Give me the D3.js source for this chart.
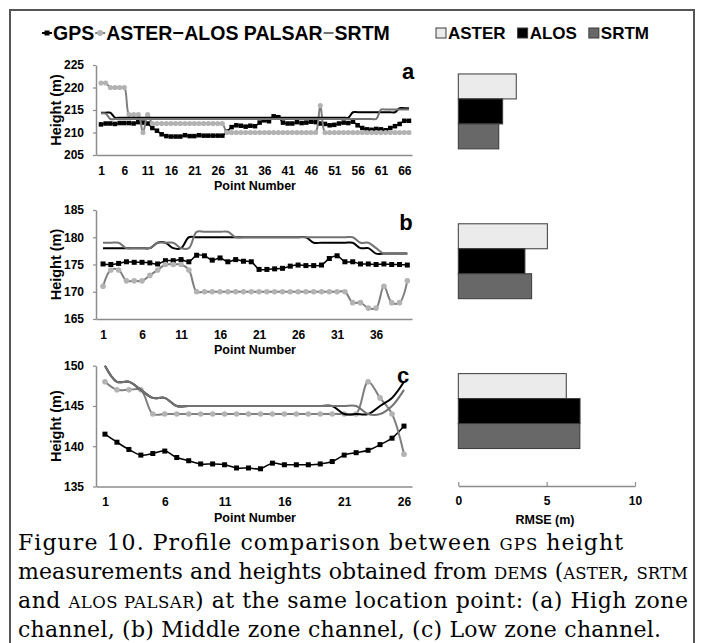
<!DOCTYPE html>
<html>
<head>
<meta charset="utf-8">
<script src="https://cdn.jsdelivr.net/npm/d3@7/dist/d3.min.js"></script>
<style>
  body { margin: 0; background: #fff; }
  svg { display: block; }
</style>
</head>
<body>
<div id="main"></div>
<script>
// ---- data ----
const seriesNames = ["GPS", "ASTER", "ALOS PALSAR", "SRTM"];

// (a) high zone channel, 67 points
const gpsA = [211.8, 212.0, 212.0, 211.9, 212.1, 212.1, 212.1, 212.0, 212.3, 212.2,
  212.0, 211.0, 210.4, 209.6, 209.2, 209.1, 209.1, 209.1, 209.4, 209.2,
  209.2, 209.4, 209.3, 209.3, 209.3, 209.3, 209.3, 210.2, 211.2, 211.6,
  211.5, 211.3, 211.5, 211.4, 212.2, 212.7, 212.5, 213.6, 213.4, 212.2,
  212.0, 212.0, 212.3, 212.1, 212.2, 212.4, 212.3, 212.0, 211.9, 211.6,
  211.7, 212.0, 212.2, 212.1, 212.4, 211.6, 211.0, 210.7, 210.6, 210.8,
  210.7, 210.5, 211.0, 211.4, 211.9, 212.6, 212.6];
const asterA = [221, 221, 220, 220, 220, 220, 214, 214, 214, 210,
  214, 212, 212, 212, 212, 212, 212, 212, 212, 212,
  212, 212, 212, 212, 212, 212, 212, 210, 210, 210,
  210, 210, 210, 210, 210, 210, 210, 210, 210, 210,
  210, 210, 210, 210, 210, 210, 210, 216, 210, 210,
  210, 210, 210, 210, 210, 210, 210, 210, 210, 210,
  210, 210, 210, 210, 210, 210, 210];
const alosA = [214.4, 214.4, 214.4, 213.3, 213.3, 213.3, 213.3, 213.3, 213.3, 213.3,
  213.3, 213.3, 213.3, 213.3, 213.3, 213.3, 213.3, 213.3, 213.3, 213.3,
  213.3, 213.3, 213.3, 213.3, 213.3, 213.3, 213.3, 213.3, 213.3, 213.3,
  213.3, 213.3, 213.3, 213.3, 213.3, 213.3, 213.3, 213.3, 213.3, 213.3,
  213.3, 213.3, 213.3, 213.3, 213.3, 213.3, 213.3, 213.3, 213.3, 213.3,
  213.3, 213.3, 213.3, 213.3, 214.5, 214.5, 214.5, 214.5, 214.5, 214.5,
  214.5, 214.5, 214.5, 214.5, 215.4, 215.4, 215.4];
const srtmA = [214.2, 214.2, 213, 213, 213, 213, 213, 213, 213, 213,
  213, 213, 213, 213, 213, 213, 213, 213, 213, 213,
  213, 213, 213, 213, 213, 213, 213, 213, 213, 213,
  213, 213, 213, 213, 213, 213, 213, 213, 213, 213,
  213, 213, 213, 213, 213, 213, 213, 213, 213, 213,
  213, 213, 213, 213, 213, 213, 213, 213, 213, 213,
  215.1, 215.1, 215.1, 215.1, 215.1, 215.1, 215.1];

// (b) middle zone channel, 40 points
const gpsB = [175.1, 175.0, 175.2, 175.5, 175.4, 175.4, 175.3, 175.1, 175.7, 175.7,
  175.9, 175.5, 176.7, 176.6, 175.8, 176.2, 175.5, 175.9, 175.6, 175.5,
  174.1, 174.1, 174.2, 174.3, 174.7, 174.9, 174.8, 174.8, 174.9, 176.1,
  176.6, 175.5, 175.5, 175.1, 175.1, 175.0, 175.1, 175.0, 175.0, 174.9];
const asterB = [171, 174, 174, 172, 172, 172, 173, 174, 175, 175,
  175, 174, 170, 170, 170, 170, 170, 170, 170, 170,
  170, 170, 170, 170, 170, 170, 170, 170, 170, 170,
  170, 170, 168, 168, 167, 167, 171, 168, 168, 172];
const alosB = [178, 178, 178, 178, 178, 178, 178, 179, 179, 178,
  178, 180, 180, 180, 180, 180, 180, 180, 180, 180,
  180, 180, 180, 180, 180, 180, 180, 179, 179, 179,
  179, 179, 179, 178, 178, 177, 177, 177, 177, 177];
const srtmB = [179, 179, 179, 178, 178, 178, 178, 179, 179, 179,
  178, 178, 181, 181, 181, 181, 181, 180, 180, 180,
  180, 180, 180, 180, 180, 180, 180, 180, 180, 180,
  180, 180, 180, 179, 179, 178, 177, 177, 177, 177];

// (c) low zone channel, 26 points
const gpsC = [141.5, 140.5, 139.6, 138.9, 139.1, 139.4, 138.6, 138.2, 137.8, 137.8,
  137.7, 137.3, 137.3, 137.2, 137.9, 137.7, 137.7, 137.7, 137.8, 138.1,
  138.9, 139.2, 139.5, 140.2, 141.0, 142.5];
const asterC = [148, 147, 147, 147, 144, 144, 144, 144, 144, 144,
  144, 144, 144, 144, 144, 144, 144, 144, 144, 144,
  144, 144, 148, 146, 144, 139];
const alosC = [150, 148, 148, 147, 146, 146, 145, 145, 145, 145,
  145, 145, 145, 145, 145, 145, 145, 145, 145, 145,
  144, 144, 144, 145, 146, 148];
const srtmC = [150, 148, 148, 147, 146, 146, 145, 145, 145, 145,
  145, 145, 145, 145, 145, 145, 145, 145, 145, 145,
  145, 145, 144, 144, 145, 147];

// tick labels
const yTicksA = [205, 210, 215, 220, 225];
const yTicksB = [165, 170, 175, 180, 185];
const yTicksC = [135, 140, 145, 150];
const xTicksA = [1, 6, 11, 16, 21, 26, 31, 36, 41, 46, 51, 56, 61, 66];
const xTicksB = [1, 6, 11, 16, 21, 26, 31, 36];
const xTicksC = [1, 6, 11, 16, 21, 26];

// RMSE bars
const rmseGroups = ["a", "b", "c"];
const rmseSeries = ["ASTER", "ALOS", "SRTM"];
const rmseAster = [3.28, 5.04, 6.11];
const rmseAlos = [2.51, 3.77, 6.89];
const rmseSrtm = [2.29, 4.15, 6.88];
const rmseTicks = [0, 5, 10];

const captionLines = [
  [["Figure 10. Profile comparison between ", 0], ["GPS", 1], [" height", 0]],
  [["measurements and heights obtained from ", 0], ["DEM", 1], ["s (", 0], ["ASTER", 1], [", ", 0], ["SRTM", 1]],
  [["and ", 0], ["ALOS PALSAR", 1], [") at the same location point: (a) High zone", 0]],
  [["channel, (b) Middle zone channel, (c) Low zone channel.", 0]]
];
const captionWidths = [605, 670, 670, 643];

// ---- drawing ----
const W = 702, H = 643;
const sans = "'Liberation Sans', Arial, sans-serif";
const col = { gps: "#000", asterLine: "#7f7f7f", asterDot: "#b3b3b3", alos: "#000", srtm: "#737373" };

const svg = d3.select("#main").append("svg")
  .attr("width", W).attr("height", H)
  .style("font-family", sans);

// outer frame
svg.append("path")
  .attr("d", "M10,660V10H694V660")
  .attr("fill", "none").attr("stroke", "#555").attr("stroke-width", 2);

const panels = [
  { key: "a", data: [gpsA, asterA, alosA, srtmA], yTicks: yTicksA, xTicks: xTicksA,
    yTop: 65, yBot: 155, xDom: [-0.07, 67.65], ms: 4.5, label: "Height (m)", lx: 408, ly: 71 },
  { key: "b", data: [gpsB, asterB, alosB, srtmB], yTicks: yTicksB, xTicks: xTicksB,
    yTop: 210, yBot: 319, xDom: [0.1, 40.6], ms: 5, label: "Height (m)", lx: 406, ly: 222 },
  { key: "c", data: [gpsC, asterC, alosC, srtmC], yTicks: yTicksC, xTicks: xTicksC,
    yTop: 365.7, yBot: 486.5, xDom: [0.25, 26.67], ms: 5, label: "Height  (m)", lx: 403, ly: 375 }
];

function styleAxis(g, size) {
  g.select(".domain").attr("stroke", "#8c8c8c").attr("stroke-width", 1.5);
  g.selectAll(".tick line").attr("stroke", "#8c8c8c").attr("stroke-width", 1.2);
  g.selectAll(".tick text").attr("fill", "#000").style("font-size", size + "px")
    .style("font-weight", "bold").style("font-family", sans);
}

panels.forEach(p => {
  const x = d3.scaleLinear().domain(p.xDom).range([96, 412]);
  const y = d3.scaleLinear().domain(d3.extent(p.yTicks)).range([p.yBot, p.yTop]);
  const g = svg.append("g");

  g.append("g").attr("transform", "translate(96,0)")
    .call(d3.axisLeft(y).tickValues(p.yTicks).tickSize(3).tickSizeOuter(0).tickPadding(9))
    .call(a => styleAxis(a, 12));
  g.append("g").attr("transform", `translate(0,${p.yBot})`)
    .call(d3.axisBottom(x).tickValues(p.xTicks).tickSize(0).tickPadding(11))
    .call(a => styleAxis(a, 12));

  g.append("text")
    .attr("transform", `translate(56,${(p.yTop + p.yBot) / 2}) rotate(-90)`)
    .attr("text-anchor", "middle").attr("dominant-baseline", "central")
    .style("font-size", "14.5px").style("font-weight", "bold")
    .text(p.label);
  g.append("text")
    .attr("x", 255).attr("y", p.yBot + 31)
    .attr("text-anchor", "middle").attr("dominant-baseline", "central")
    .style("font-size", "12.5px").style("font-weight", "bold")
    .text("Point Number");
  g.append("text")
    .attr("x", p.lx).attr("y", p.ly)
    .attr("text-anchor", "middle").attr("dominant-baseline", "central")
    .style("font-size", "22px").style("font-weight", "bold")
    .text(p.key);

  const line = d3.line().x((d, i) => x(i + 1)).y(d => y(d)).curve(d3.curveCatmullRom);
  const [gps, aster, alos, srtm] = p.data;

  // GPS
  g.append("path").attr("d", line(gps)).attr("fill", "none")
    .attr("stroke", col.gps).attr("stroke-width", 1.5);
  g.append("g").selectAll("rect").data(gps).join("rect")
    .attr("x", (d, i) => x(i + 1) - p.ms / 2).attr("y", d => y(d) - p.ms / 2)
    .attr("width", p.ms).attr("height", p.ms).attr("fill", col.gps);

  // ASTER
  g.append("path").attr("d", line(aster)).attr("fill", "none")
    .attr("stroke", col.asterLine).attr("stroke-width", 2);
  g.append("g").selectAll("circle").data(aster).join("circle")
    .attr("cx", (d, i) => x(i + 1)).attr("cy", d => y(d))
    .attr("r", p.ms / 2 + 0.3).attr("fill", col.asterDot);

  // ALOS PALSAR
  g.append("path").attr("d", line(alos)).attr("fill", "none")
    .attr("stroke", col.alos).attr("stroke-width", 2);
  // SRTM
  g.append("path").attr("d", line(srtm)).attr("fill", "none")
    .attr("stroke", col.srtm).attr("stroke-width", 2);
});

// ---- RMSE bar chart ----
const xr = d3.scaleLinear().domain([0, 10]).range([458.3, 635]);
const yb = d3.scaleBand().domain(rmseGroups).range([36.5, 486]).paddingInner(0.5).paddingOuter(0.25);
const yi = d3.scaleBand().domain(rmseSeries).range([0, yb.bandwidth()]);
const barFill = { ASTER: "#ebebeb", ALOS: "#000", SRTM: "#686868" };
const rmseVals = { ASTER: rmseAster, ALOS: rmseAlos, SRTM: rmseSrtm };

const bars = svg.append("g");
rmseGroups.forEach((grp, gi) => {
  rmseSeries.forEach(s => {
    bars.append("rect")
      .attr("x", xr(0)).attr("y", yb(grp) + yi(s))
      .attr("width", xr(rmseVals[s][gi]) - xr(0)).attr("height", yi.bandwidth())
      .attr("fill", barFill[s]).attr("stroke", "#3a3a3a").attr("stroke-width", 1);
  });
});
svg.append("g").attr("transform", "translate(0,486)")
  .call(d3.axisBottom(xr).tickValues(rmseTicks).tickSize(-4).tickSizeOuter(0).tickPadding(10))
  .call(a => styleAxis(a, 12));
svg.append("text")
  .attr("x", 545).attr("y", 520)
  .attr("text-anchor", "middle").attr("dominant-baseline", "central")
  .style("font-size", "12.5px").style("font-weight", "bold")
  .text("RMSE (m)");

// ---- legends ----
const legL = svg.append("g").style("font-size", "19.5px").style("font-weight", "bold");
let lx = 42;
const ly = 33;
seriesNames.forEach((name, i) => {
  const lineCol = [col.gps, col.asterLine, col.alos, col.srtm][i];
  legL.append("line").attr("x1", lx).attr("x2", lx + 10).attr("y1", ly).attr("y2", ly)
    .attr("stroke", lineCol).attr("stroke-width", 2);
  if (i === 0) legL.append("rect").attr("x", lx + 2.5).attr("y", ly - 2.5).attr("width", 5).attr("height", 5).attr("fill", col.gps);
  if (i === 1) legL.append("circle").attr("cx", lx + 5).attr("cy", ly).attr("r", 3).attr("fill", col.asterDot);
  const t = legL.append("text").attr("x", lx + 11).attr("y", ly)
    .attr("dominant-baseline", "central").text(name);
  lx += 11 + t.node().getComputedTextLength() + 1;
});

const legR = svg.append("g").style("font-size", "17px").style("font-weight", "bold");
let rx = 436;
rmseSeries.forEach(s => {
  legR.append("rect").attr("x", rx).attr("y", ly - 5).attr("width", 10).attr("height", 10)
    .attr("fill", barFill[s]).attr("stroke", "#3a3a3a").attr("stroke-width", 1);
  const t = legR.append("text").attr("x", rx + 12).attr("y", ly)
    .attr("dominant-baseline", "central").text(s);
  rx += 12 + t.node().getComputedTextLength() + 12;
});

// ---- caption ----
const cap = svg.append("g")
  .style("font-family", "'DejaVu Serif', serif").style("font-size", "22px");
captionLines.forEach((parts, li) => {
  const t = cap.append("text").attr("x", 18).attr("y", 550 + li * 29)
    .attr("textLength", captionWidths[li]).attr("lengthAdjust", "spacing");
  parts.forEach(([txt, sc]) => {
    t.append("tspan").style("font-size", sc ? "16.5px" : null).text(txt);
  });
});
</script>
</body>
</html>
